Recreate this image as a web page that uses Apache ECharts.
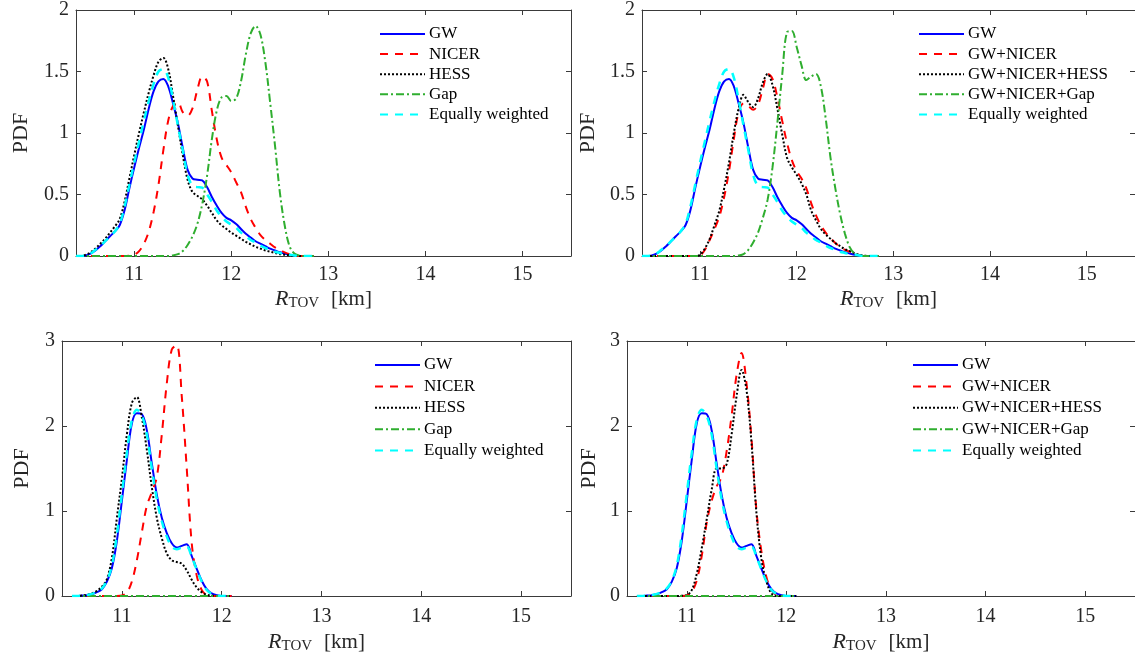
<!DOCTYPE html>
<html>
<head>
<meta charset="utf-8">
<script src="https://cdn.jsdelivr.net/npm/echarts@6/dist/echarts.min.js"></script>
<style>
html,body{margin:0;padding:0;background:#fff;}
#chart{width:1135px;height:664px;}
</style>
</head>
<body>
<div id="chart"></div>
<script>
// ---------- x grids (km) ----------
const X_TOP = [10.40,10.45,10.50,10.55,10.60,10.65,10.70,10.75,10.80,10.85,10.90,10.95,
  11.00,11.05,11.10,11.15,11.20,11.25,11.30,11.35,11.40,11.45,11.50,11.55,11.60,11.65,11.70,11.75,
  11.80,11.85,11.90,11.95,12.00,12.05,12.10,12.15,12.20,12.25,12.30,12.35,12.40,12.45,12.50,12.55,
  12.60,12.65,12.70,12.75,12.80,12.85];
const X_BOT = [10.50,10.55,10.60,10.65,10.70,10.75,10.80,10.85,10.90,10.95,
  11.00,11.05,11.10,11.15,11.20,11.25,11.30,11.35,11.40,11.45,11.50,11.55,11.60,11.65,11.70,11.75,
  11.80,11.85,11.90,11.95,12.00,12.05,12.10];

// ---------- top row ----------
const GW_TOP = [0,0,0.005,0.02,0.045,0.08,0.12,0.16,0.20,0.25,0.37,0.55,
  0.72,0.88,1.03,1.20,1.34,1.42,1.44,1.38,1.24,1.08,0.88,0.70,0.63,0.62,0.615,0.56,
  0.48,0.41,0.35,0.31,0.29,0.26,0.22,0.18,0.15,0.12,0.10,0.08,0.06,0.045,0.03,0.02,
  0.01,0.005,0,0,0,0];
const EW_TOP = [0,0,0.005,0.02,0.05,0.08,0.12,0.16,0.20,0.26,0.40,0.58,
  0.76,0.93,1.10,1.26,1.40,1.50,1.52,1.45,1.27,1.06,0.86,0.66,0.57,0.56,0.555,0.50,
  0.44,0.37,0.32,0.28,0.255,0.23,0.19,0.16,0.13,0.11,0.085,0.065,0.05,0.035,0.025,0.015,
  0.01,0.005,0,0,0,0];
const NICER_TL = [0,0,0,0,0,0,0,0,0,0,0,0.003,
  0.01,0.04,0.10,0.20,0.36,0.58,0.86,1.10,1.22,1.25,1.17,1.14,1.20,1.35,1.46,1.42,
  1.18,0.95,0.80,0.74,0.68,0.60,0.52,0.40,0.30,0.23,0.17,0.13,0.10,0.07,0.05,0.03,
  0.015,0.005,0,0,0,0];
const HESS_TL = [0,0,0.01,0.03,0.06,0.10,0.14,0.19,0.24,0.30,0.44,0.63,
  0.82,1.00,1.17,1.33,1.47,1.58,1.61,1.52,1.30,1.06,0.82,0.62,0.52,0.49,0.46,0.41,
  0.35,0.29,0.25,0.22,0.19,0.165,0.14,0.115,0.095,0.075,0.06,0.045,0.035,0.025,0.015,0.01,
  0.005,0,0,0,0,0];
const GAP_TL = [0,0,0,0,0,0,0,0,0,0,0,0,
  0,0,0,0,0,0,0,0,0.005,0.015,0.04,0.09,0.16,0.26,0.42,0.65,
  0.95,1.18,1.29,1.30,1.26,1.28,1.42,1.64,1.81,1.87,1.80,1.58,1.25,0.90,0.52,0.25,
  0.08,0.02,0.005,0,0,0];
const GWN_TR = [0,0,0,0,0,0,0,0,0,0,0,0,
  0.005,0.05,0.13,0.22,0.32,0.48,0.69,0.95,1.17,1.24,1.22,1.19,1.23,1.36,1.48,1.44,
  1.29,1.10,0.92,0.78,0.69,0.63,0.55,0.43,0.33,0.25,0.19,0.145,0.105,0.075,0.05,0.035,
  0.017,0.007,0,0,0,0];
const GWNH_TR = [0,0,0,0,0,0,0,0,0,0,0,0,
  0.01,0.06,0.14,0.25,0.37,0.55,0.76,1.00,1.20,1.31,1.25,1.21,1.28,1.41,1.48,1.39,
  1.20,0.99,0.80,0.72,0.66,0.59,0.50,0.37,0.29,0.22,0.175,0.14,0.105,0.08,0.055,0.04,
  0.022,0.01,0.003,0,0,0];
const GWNG_TR = [0,0,0,0,0,0,0,0,0,0,0,0,
  0,0,0,0,0,0,0,0,0.005,0.015,0.05,0.11,0.19,0.31,0.46,0.72,
  1.08,1.47,1.82,1.83,1.70,1.55,1.43,1.46,1.48,1.38,1.12,0.80,0.55,0.34,0.18,0.07,
  0.02,0.005,0,0,0,0];

// ---------- bottom row ----------
const GW_BOT = [0,0,0.005,0.01,0.02,0.045,0.08,0.17,0.33,0.65,
  1.12,1.60,2.03,2.15,2.14,1.95,1.56,1.19,0.92,0.74,0.62,0.57,0.59,0.61,0.47,0.32,
  0.18,0.08,0.03,0.01,0,0,0];
const EW_BOT = [0,0,0.005,0.012,0.025,0.05,0.09,0.18,0.36,0.72,
  1.20,1.68,2.07,2.19,2.12,1.90,1.50,1.14,0.88,0.70,0.58,0.55,0.57,0.58,0.46,0.31,
  0.17,0.07,0.025,0.01,0,0,0];
const NICER_BL = [0,0,0,0,0,0,0,0,0,0,
  0.005,0.04,0.17,0.42,0.75,1.06,1.22,1.40,1.90,2.50,2.90,2.95,2.35,1.50,0.62,0.24,
  0.07,0.01,0,0,0,0,0];
const HESS_BL = [0,0,0.005,0.015,0.03,0.06,0.11,0.20,0.45,0.92,
  1.38,1.90,2.27,2.34,2.10,1.72,1.28,0.92,0.68,0.50,0.42,0.40,0.38,0.30,0.19,0.10,
  0.045,0.015,0.005,0,0,0,0];
const GAP_BL = [0,0,0,0,0,0,0,0,0,0,0,0,0,0,0,0,0,0,0,0,0,0,0,0,0,0,0,0,0,0,0,0,0];
const GWN_BR = [0,0,0,0,0,0,0,0,0,0,
  0.005,0.05,0.18,0.47,0.86,1.12,1.29,1.40,1.70,2.12,2.60,2.86,2.50,1.85,1.00,0.52,
  0.22,0.07,0.01,0,0,0,0];
const GWNH_BR = [0,0,0,0,0,0,0,0,0,0.003,
  0.01,0.07,0.26,0.56,0.90,1.25,1.50,1.50,1.55,1.90,2.35,2.66,2.42,1.80,0.97,0.43,
  0.17,0.03,0,0,0,0,0];
const GWNG_BR = [0,0,0,0,0,0,0,0,0,0,0,0,0,0,0,0,0,0,0,0,0,0,0,0,0,0,0,0,0,0,0,0,0];

// ---------- labels ----------
const X_TICKS = [11,12,13,14,15];
const NAMES_LEFT = ['GW','NICER','HESS','Gap','Equally weighted'];
const NAMES_RIGHT = ['GW','GW+NICER','GW+NICER+HESS','GW+NICER+Gap','Equally weighted'];

// ---------- styles by role ----------
const ROLE_STYLE = [
  {color:'#0000ff', width:2, type:'solid'},
  {color:'#ff0000', width:2, type:[8,7]},
  {color:'#000000', width:2, type:[2,2]},
  {color:'#2fae2f', width:2, type:[8,3,2,3]},
  {color:'#00ffff', width:2.5, type:[8,7]}
];

const SERIF = '"Liberation Serif","Times New Roman",serif';
const AX = '#3a3a3a';

const grids = [
  {left:76,  top:7,   width:495, height:249},
  {left:642, top:7,   width:496, height:249},
  {left:62,  top:341, width:509, height:255},
  {left:627, top:341, width:511, height:255}
];
const yMax = [2,2,3,3];
const yInt = [0.5,0.5,1,1];
const xNameGap = [31,31,34,34];
const xLabMargin = [9,9,11,11];
const yNameGap = [44,42.5,29,27];

const panels = [
  {names:NAMES_LEFT,  x:X_TOP, ys:[GW_TOP,NICER_TL,HESS_TL,GAP_TL,EW_TOP]},
  {names:NAMES_RIGHT, x:X_TOP, ys:[GW_TOP,GWN_TR,GWNH_TR,GWNG_TR,EW_TOP]},
  {names:NAMES_LEFT,  x:X_BOT, ys:[GW_BOT,NICER_BL,HESS_BL,GAP_BL,EW_BOT]},
  {names:NAMES_RIGHT, x:X_BOT, ys:[GW_BOT,GWN_BR,GWNH_BR,GWNG_BR,EW_BOT]}
];

const xAxes = [], yAxes = [], series = [], legends = [];
const legendPos = [
  {left:379, top:25.5, gap:3.1},
  {left:918, top:25.5, gap:3.1},
  {left:374, top:356.5, gap:4.4},
  {left:912, top:356.5, gap:4.4}
];

grids.forEach((g, gi) => {
  xAxes.push({
    type:'value', gridIndex:gi, min:10.4, max:15.5, position:'bottom',
    axisLine:{show:true, onZero:false, lineStyle:{color:AX, width:1}},
    axisTick:{show:true, inside:true, length:5, customValues:X_TICKS, lineStyle:{color:AX}},
    axisLabel:{show:true, customValues:X_TICKS, fontFamily:SERIF, fontSize:20, color:'#262626', margin:xLabMargin[gi]},
    splitLine:{show:false},
    name:'{r|R}{s|TOV}{u|[km]}',
    nameLocation:'middle', nameGap:xNameGap[gi],
    nameTextStyle:{
      color:'#262626', fontFamily:SERIF,
      rich:{
        r:{fontFamily:SERIF, fontStyle:'italic', fontSize:22, lineHeight:24, color:'#262626'},
        s:{fontFamily:SERIF, fontSize:15, lineHeight:15, verticalAlign:'bottom', color:'#262626'},
        u:{fontFamily:SERIF, fontSize:21, lineHeight:24, padding:[0,0,0,12], color:'#262626'}
      }
    }
  });
  xAxes.push({
    type:'value', gridIndex:gi, min:10.4, max:15.5, position:'top',
    axisLine:{show:true, onZero:false, lineStyle:{color:AX, width:1}},
    axisTick:{show:true, inside:true, length:5, customValues:X_TICKS, lineStyle:{color:AX}},
    axisLabel:{show:false}, splitLine:{show:false}
  });
  yAxes.push({
    type:'value', gridIndex:gi, min:0, max:yMax[gi], interval:yInt[gi], position:'left',
    axisLine:{show:true, onZero:false, lineStyle:{color:AX, width:1}},
    axisTick:{show:true, inside:true, length:5, lineStyle:{color:AX}},
    axisLabel:{show:true, fontFamily:SERIF, fontSize:20, color:'#262626', margin:7},
    splitLine:{show:false},
    name:'PDF', nameLocation:'middle', nameGap:yNameGap[gi],
    nameTextStyle:{fontFamily:SERIF, fontSize:22, color:'#262626'}
  });
  yAxes.push({
    type:'value', gridIndex:gi, min:0, max:yMax[gi], interval:yInt[gi], position:'right',
    axisLine:{show:true, onZero:false, lineStyle:{color:AX, width:1}},
    axisTick:{show:true, inside:true, length:5, lineStyle:{color:AX}},
    axisLabel:{show:false}, splitLine:{show:false}
  });

  const p = panels[gi];
  p.ys.forEach((ys, si) => {
    const st = ROLE_STYLE[si];
    series.push({
      type:'line', name:p.names[si],
      xAxisIndex:2*gi, yAxisIndex:2*gi,
      data:p.x.map((x, i) => [x, ys[i]]),
      symbol:'none', smooth:0.35, clip:true,
      lineStyle:{color:st.color, width:st.width, type:st.type},
      itemStyle:{color:st.color},
      emphasis:{disabled:true},
      z: 2 + si
    });
  });

  legends.push({
    orient:'vertical', left:legendPos[gi].left, top:legendPos[gi].top,
    padding:0, itemWidth:45, itemHeight:14, itemGap:legendPos[gi].gap,
    data:p.names, selectedMode:false,
    itemStyle:{opacity:0, borderWidth:0},
    textStyle:{fontFamily:SERIF, fontSize:17, color:'#000', padding:[0,0,0,-1]}
  });
});

const chart = echarts.init(document.getElementById('chart'), null, {renderer:'canvas'});
chart.setOption({
  backgroundColor:'#ffffff',
  animation:false,
  grid:grids,
  xAxis:xAxes,
  yAxis:yAxes,
  legend:legends,
  series:series
});
</script>
</body>
</html>
